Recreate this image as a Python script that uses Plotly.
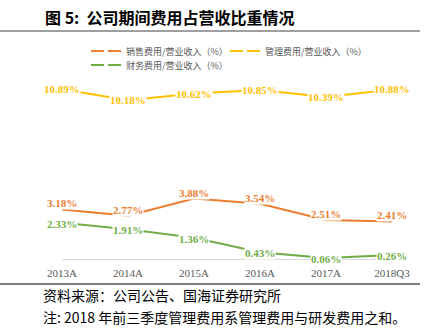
import plotly.graph_objects as go

categories = ["2013A", "2014A", "2015A", "2016A", "2017A", "2018Q3"]
sales = [3.18, 2.77, 3.88, 3.54, 2.51, 2.41]
admin = [10.89, 10.18, 10.62, 10.85, 10.39, 10.88]
finance = [2.33, 1.91, 1.36, 0.43, 0.06, 0.26]

names = ["销售费用/营业收入（%）", "管理费用/营业收入（%）", "财务费用/营业收入（%）"]
colors = ["#ED7D31", "#FFC000", "#70AD47"]
series = [sales, admin, finance]
label_shift = [6, 0, -1]
legends = ["legend", "legend", "legend2"]

# plot area geometry (pixels)
W, H = 433, 329
L, R = 62, 392
T, B = 72, 259
pw, ph = R - L, B - T


def px(x):
    return (x - L) / pw


def py(y):
    return (B - y) / ph


fig = go.Figure()
for vals, c, n in zip(series, colors, names):
    fig.add_trace(go.Scatter(x=categories, y=vals, mode="lines",
                             line=dict(color=c, width=2), showlegend=False,
                             hoverinfo="skip"))
for c, n, lg in zip(colors, names, legends):
    fig.add_trace(go.Scatter(x=[None], y=[None], mode="lines", name=n,
                             line=dict(color=c, width=2, dash="13px,4px,13px,40px"),
                             legend=lg))

annotations = []
for vals, c, sh in zip(series, colors, label_shift):
    for cat, v in zip(categories, vals):
        annotations.append(dict(x=cat, y=v, xref="x", yref="y", text=f"{v:.2f}%",
                                showarrow=False, yshift=sh, bgcolor="white",
                                borderpad=0,
                                font=dict(family="Liberation Serif", size=11,
                                          color=c, weight="bold")))

annotations.append(dict(x=px(43), y=py(17), xref="paper", yref="paper",
                        xanchor="left", yanchor="middle", showarrow=False,
                        text="<b>图 5:  公司期间费用占营收比重情况</b>",
                        font=dict(family="Noto Sans CJK SC", size=16, color="#000000")))
annotations.append(dict(x=px(41), y=py(295), xref="paper", yref="paper",
                        xanchor="left", yanchor="middle", showarrow=False,
                        text="资料来源：公司公告、国海证券研究所",
                        font=dict(family="Noto Sans CJK SC", size=14, color="#000000")))
annotations.append(dict(x=px(41), y=py(317), xref="paper", yref="paper",
                        xanchor="left", yanchor="middle", showarrow=False,
                        text="注: 2018 年前三季度管理费用系管理费用与研发费用之和。",
                        font=dict(family="Noto Sans CJK SC", size=14, color="#000000")))

shapes = [
    dict(type="line", xref="paper", yref="paper", x0=px(0), x1=px(420),
         y0=py(31), y1=py(31), line=dict(color="#404040", width=1)),
    dict(type="line", xref="paper", yref="paper", x0=px(0), x1=px(420),
         y0=py(284), y1=py(284), line=dict(color="#7f7f7f", width=2)),
]

legend_font = dict(family="Noto Sans CJK SC", size=9, color="#595959")
fig.update_layout(
    width=W, height=H,
    margin=dict(l=L, r=W - R, t=T, b=H - B, pad=0),
    paper_bgcolor="white", plot_bgcolor="white",
    showlegend=True,
    legend=dict(orientation="h", x=px(86), y=py(51), xanchor="left", yanchor="middle",
                font=legend_font, entrywidth=94, entrywidthmode="pixels",
                bgcolor="rgba(0,0,0,0)", itemwidth=30),
    legend2=dict(orientation="h", x=px(86), y=py(65), xanchor="left", yanchor="middle",
                 font=legend_font, bgcolor="rgba(0,0,0,0)", itemwidth=30),
    xaxis=dict(type="category", range=[0, len(categories) - 1], showgrid=False,
               showline=True, linecolor="#D9D9D9", linewidth=1, zeroline=False,
               ticks="outside", ticklen=4, tickcolor="rgba(0,0,0,0)",
               tickfont=dict(family="Liberation Serif", size=11, color="#595959")),
    yaxis=dict(range=[0, 12], showgrid=False, showticklabels=False, zeroline=False,
               showline=False),
    annotations=annotations,
    shapes=shapes,
)

fig.write_html("out.html")
